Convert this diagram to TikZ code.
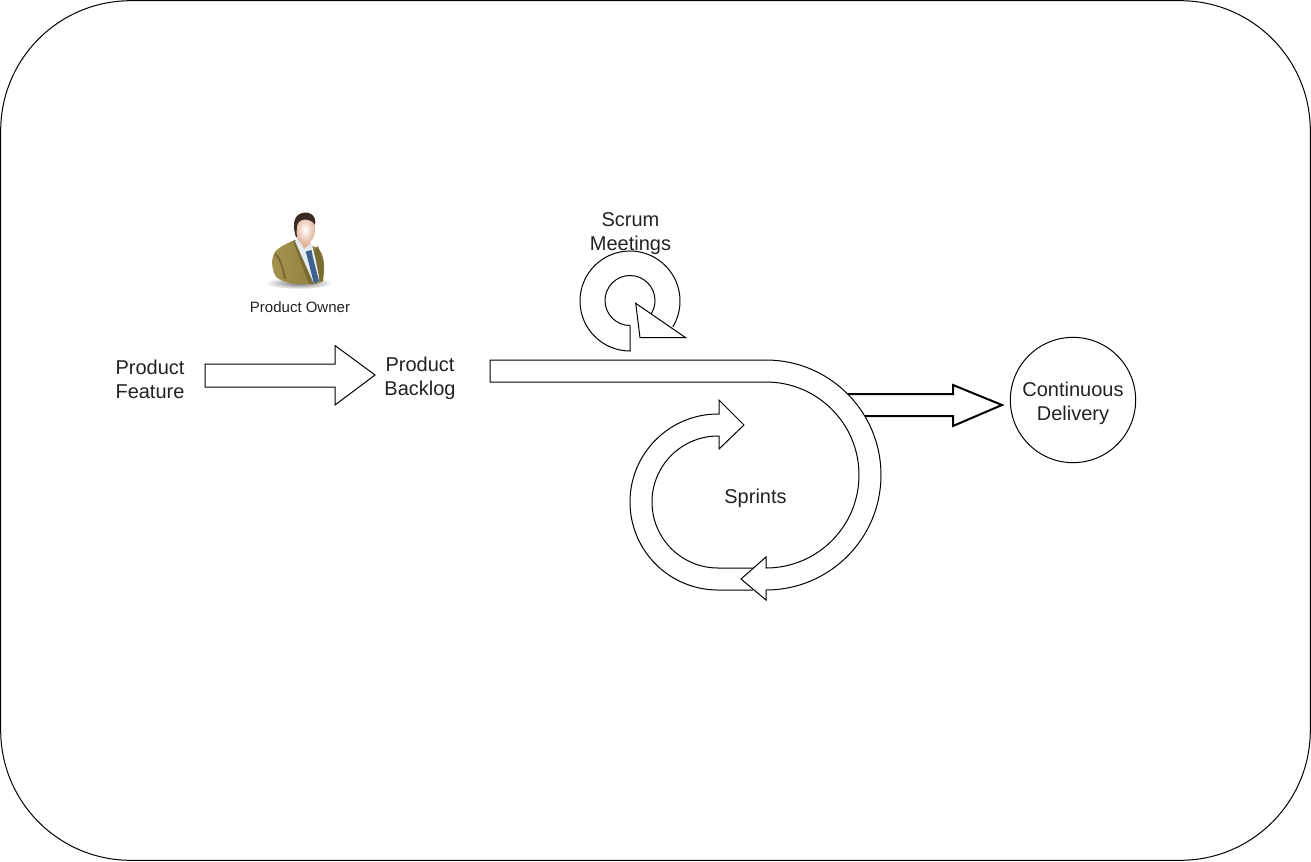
\documentclass[tikz,border=0pt]{standalone}
\usepackage{fontspec}
\setmainfont{Liberation Sans}
\definecolor{ink}{HTML}{222222}
\definecolor{suit}{HTML}{8E7D3E}
\definecolor{suitdark}{HTML}{7A6B30}
\definecolor{suitlight}{HTML}{A3934F}
\definecolor{hair}{HTML}{3A2A22}
\definecolor{skin}{HTML}{E2B49C}
\definecolor{tie}{HTML}{3D628F}
\definecolor{shirt}{HTML}{E3ECF2}
\tikzset{
  outline/.style={draw=black,line width=0.75pt,fill=white,line join=miter},
  openline/.style={draw=black,line width=0.75pt},
  heavy/.style={draw=black,line width=1.5pt,fill=white,line join=miter},
  label/.style={font=\fontsize{15}{18}\selectfont,text=ink,align=center,inner sep=0pt},
  smalllabel/.style={font=\fontsize{11.25}{13.5}\selectfont,text=ink,align=center,inner sep=0pt}
}
\begin{document}
\begin{tikzpicture}[x=0.75pt,y=0.75pt,yscale=-1]
\useasboundingbox (0,0) rectangle (1311,861);
% frame
\draw[openline,rounded corners=97.5pt] (0.7,0.7) rectangle (1310.3,860.3);
% feature arrow
\draw[outline] (205,364) -- (335,364) -- (335,345.5) -- (375,375) -- (335,405) -- (335,387) -- (205,387) -- cycle;
% delivery arrow
\draw[heavy] (848,394) -- (953,394) -- (953,385) -- (1002,405) -- (953,426) -- (953,416) -- (865,416);
% main arrow
\draw[outline] (490,360) -- (766,360) arc[start angle=270,end angle=450,radius=115]
  -- (766,600) -- (741,579) -- (766,557) -- (766,568)
  arc[start angle=450,end angle=270,radius=93] -- (490,382) -- cycle;
% sprint loop
\draw[openline] (753,590) -- (718,590) arc[start angle=90,end angle=270,radius=88] -- (719,414)
  -- (719,400) -- (744,425) -- (719,449) -- (719,436) -- (718,436)
  arc[start angle=270,end angle=90,radius=66] -- (753,568);
% scrum loop
\draw[openline] (630,325.5) -- (630,351) arc[start angle=90,end angle=391,radius=50];
\draw[openline] (630,325.5) arc[start angle=90,end angle=392,radius=25];
\draw[outline] (635.7,303.3) -- (685.7,337.7) -- (640,337.7) -- cycle;
% delivery circle
\node[circle,draw=black,line width=0.75pt,minimum size=94pt,inner sep=0pt] (cd) at (1073,400) {};
% person
\shade[inner color=black!55,outer color=white] (299,283) ellipse[x radius=34,y radius=6];
\shade[left color=suitlight,right color=suit] (276,277) .. controls (271,268) and (271,258) .. (275,252)
  .. controls (280,246) and (288,243) .. (295,240) -- (318,248)
  .. controls (325,256) and (325,266) .. (323,281) -- (316,284) -- (296,284) .. controls (288,283) and (281,281) .. (276,277) -- cycle;
\path[fill=suitdark] (275,253) .. controls (280,256) and (284,266) .. (286,279) -- (284,279) .. controls (282,268) and (279,259) .. (275,255) -- cycle;
\path[fill=suitdark] (293,241) -- (296,240) -- (314,284) -- (309,284) -- cycle;
\path[fill=shirt] (295,241) -- (306,234) -- (312,245) -- (319,272) -- (319,281) -- (314,284) -- cycle;
\path[fill=tie] (305.7,251.5) -- (311.5,250) -- (313,258) -- (319,281) -- (314,284) -- (308.5,262) -- cycle;
\path[fill=suitdark] (314,250) -- (318,246) -- (323,262) -- (323,281) -- (320,282) -- cycle;
\path[fill=skin] (298,236) -- (310,236) -- (310,244) -- (304,249) -- cycle;
\shade[inner color=white,outer color=skin] (305,229.5) ellipse[x radius=10,y radius=14.5];
\path[fill=hair] (296,237) .. controls (293,228) and (292,216) .. (302,213)
  .. controls (310,211) and (317,216) .. (315,225) .. controls (312,219) and (301,217) .. (297.5,224) .. controls (296.5,228) and (296.5,233) .. (297,237) -- cycle;
% labels
\node[label] (feature) at (150,379.5) {Product\\Feature};
\node[label] (backlog) at (420,378.5) {Product\\Backlog};
\node[label] (scrum) at (630.5,233.5) {Scrum\\Meetings};
\node[label] (sprints) at (755.5,498) {Sprints};
\node[label] at (1073,403) {Continuous\\Delivery};
\node[smalllabel] (owner) at (300,307) {Product Owner};
\end{tikzpicture}
\end{document}
